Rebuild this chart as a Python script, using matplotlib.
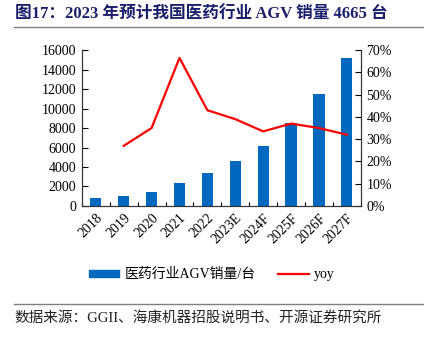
import matplotlib.pyplot as plt
from matplotlib.lines import Line2D
import numpy as np

plt.rcParams['font.family'] = ['Liberation Serif', 'Noto Sans CJK SC', 'DejaVu Sans']

years = ['2018', '2019', '2020', '2021', '2022', '2023E', '2024F', '2025F', '2026F', '2027F']
sales = [800, 1050, 1400, 2350, 3400, 4665, 6200, 8500, 11450, 15150]
yoy = [np.nan, 27, 35, 66.5, 43, 39, 33.5, 37, 35, 32]

bar_color = '#0068BE'
line_color = '#FF0000'

fig = plt.figure(figsize=(4.24, 3.41), dpi=100)
ax = fig.add_axes([0.193, 0.396, 0.658, 0.457])
ax2 = ax.twinx()

x = np.arange(len(years))
ax.bar(x, sales, width=0.4, color=bar_color, zorder=2)
ax2.plot(x, yoy, color=line_color, linewidth=1.6, zorder=3)

ax.set_xlim(-0.5, len(years) - 0.5)
ax.set_ylim(0, 16000)
ax.set_yticks(np.arange(0, 16001, 2000))
ax2.set_ylim(0, 70)
ax2.set_yticks(np.arange(0, 71, 10))
ax2.set_yticklabels([f'{v}%' for v in range(0, 71, 10)])

# category ticks sit between the bars, labels stay centred under them
ax.set_xticks(x)
ax.set_xticklabels(years, rotation=45, ha='right', va='top', rotation_mode='anchor')
ax.set_xticks(np.arange(-0.5, len(years)), minor=True)
ax.tick_params(axis='x', which='major', length=0, pad=4, labelsize=10)
ax.tick_params(axis='x', which='minor', direction='in', length=3, width=0.8)
ax.tick_params(axis='y', direction='in', length=4, width=0.8, labelsize=10, pad=4)
ax2.tick_params(axis='y', direction='in', length=4, width=0.8, labelsize=10, pad=4)

for a in (ax, ax2):
    a.spines['top'].set_visible(False)
    for s in ('left', 'right', 'bottom'):
        a.spines[s].set_color('#333333')
        a.spines[s].set_linewidth(0.8)

# title and rules
fig.text(0.035, 0.955, '图17：2023 年预计我国医药行业 AGV 销量 4665 台',
         fontsize=12, fontweight='bold', color='#1B1F6B', ha='left', va='center')
fig.add_artist(Line2D([0.033, 1.0], [0.921, 0.921], color='#7F7F7F', linewidth=1.0))
fig.add_artist(Line2D([0.033, 1.0], [0.109, 0.109], color='#7F7F7F', linewidth=1.0))

handles = [plt.Rectangle((0, 0), 1, 1, color=bar_color),
           Line2D([0], [0], color=line_color, linewidth=1.6)]
fig.legend(handles, ['医药行业AGV销量/台', 'yoy'], loc='center',
           bbox_to_anchor=(0.5, 0.194), ncol=2, frameon=False, fontsize=10,
           handlelength=2.2, handleheight=0.5, columnspacing=1.6, handletextpad=0.4)

fig.text(0.035, 0.067, '数据来源：GGII、海康机器招股说明书、开源证券研究所',
         fontsize=10.5, color='#222222', ha='left', va='center')

fig.savefig('out.png', dpi=100)
